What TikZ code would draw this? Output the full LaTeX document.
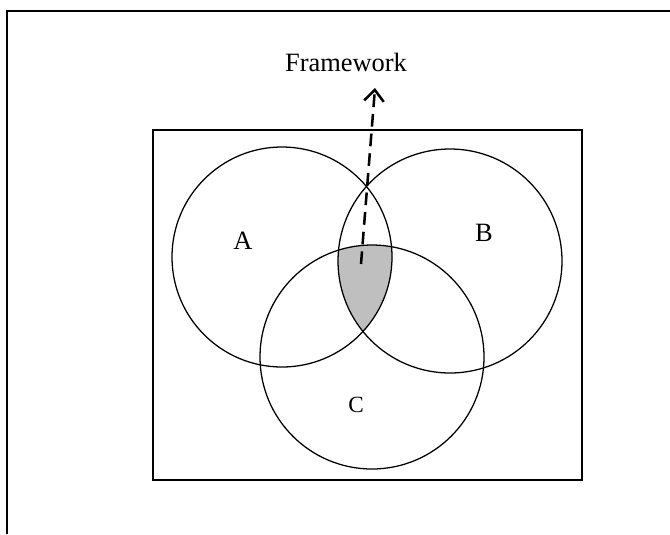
\documentclass[tikz,border=0pt]{standalone}
\usepackage{fontspec}
\setmainfont{Liberation Serif}
\usetikzlibrary{arrows.meta}
\begin{document}
\begin{tikzpicture}[x=0.025cm,y=-0.025cm,
  set/.style={draw, line width=0.9pt},
  lbl/.style={font=\fontsize{18.8}{22}\selectfont, inner sep=0pt}]
\useasboundingbox (0,0) rectangle (670,534);
\draw[line width=1.4pt] (7,534) -- (7,11) -- (670,11);
\draw[line width=1.1pt] (153,130) rectangle (582,480);
\begin{scope}
\clip (282,257) circle [radius=110];
\clip (450,261) circle [radius=112];
\fill[black!25] (372,357) circle [radius=112];
\end{scope}
\draw[set] (282,257) circle [radius=110];
\draw[set] (450,261) circle [radius=112];
\draw[set] (372,357) circle [radius=112];
\node[lbl] (A) at (243,241) {A};
\node[lbl] (B) at (484,233) {B};
\node[lbl, font=\fontsize{16.5}{20}\selectfont] (C) at (356,405) {C};
\node[lbl] (F) at (346,62) {Framework};
\coordinate (core) at (361,264);
\coordinate (tip) at (375,88);
\draw[line width=1.8pt, dash pattern=on 9pt off 5pt, -{Straight Barb[length=8pt,width=14pt]}] (core) -- (tip);
\end{tikzpicture}
\end{document}
